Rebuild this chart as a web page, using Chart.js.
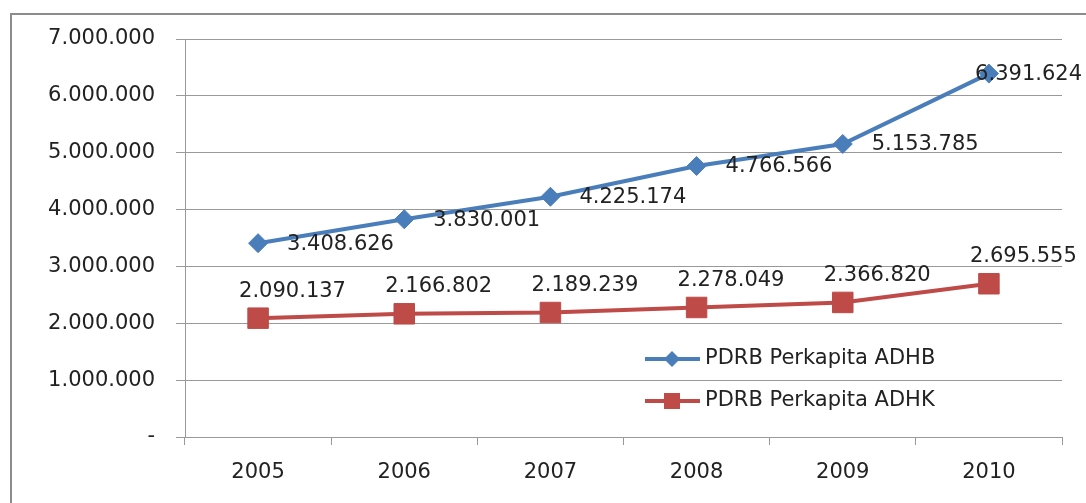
<!DOCTYPE html>
<html>
<head>
<meta charset="utf-8">
<title>PDRB Perkapita</title>
<script src="https://cdn.jsdelivr.net/npm/chart.js@4.4.1/dist/chart.umd.min.js"></script>
<style>
  body { margin: 0; background: #fff; }
  #chart { display: block; }
</style>
</head>
<body>
<canvas id="chart" width="1086" height="503"></canvas>
<script>
// Data
const years = ["2005", "2006", "2007", "2008", "2009", "2010"];
const adhb = [3408626, 3830001, 4225174, 4766566, 5153785, 6391624];
const adhk = [2090137, 2166802, 2189239, 2278049, 2366820, 2695555];
const seriesNames = ["PDRB Perkapita ADHB", "PDRB Perkapita ADHK"];
const yTicks = [0, 1000000, 2000000, 3000000, 4000000, 5000000, 6000000, 7000000];

const FONT = "'DejaVu Sans', sans-serif";
const TEXT = "#222";
const GRID = "#999";
const BLUE = "#4A7EBB";
const RED = "#BE4B48";

function formatNum(v) {
    if (v === 0) return "-";
    return String(v).replace(/\B(?=(\d{3})+(?!\d))/g, ".");
}

// marco exterior (solo borde superior e izquierdo visibles)
const framePlugin = {
    id: "frame",
    beforeDraw(chart) {
        const ctx = chart.ctx;
        ctx.save();
        ctx.fillStyle = "#fff";
        ctx.fillRect(0, 0, chart.width, chart.height);
        ctx.strokeStyle = "#8c8c8c";
        ctx.lineWidth = 2;
        ctx.beginPath();
        ctx.moveTo(11, chart.height);
        ctx.lineTo(11, 14);
        ctx.lineTo(chart.width, 14);
        ctx.stroke();
        ctx.restore();
    }
};

// etiquetas de datos
const labelPlugin = {
    id: "valueLabels",
    afterDatasetsDraw(chart) {
        const ctx = chart.ctx;
        ctx.save();
        ctx.font = "21px " + FONT;
        ctx.fillStyle = TEXT;
        ctx.textAlign = "left";
        ctx.textBaseline = "middle";
        chart.data.datasets.forEach((ds, i) => {
            const meta = chart.getDatasetMeta(i);
            meta.data.forEach((pt, j) => {
                const txt = formatNum(ds.data[j]);
                const w = ctx.measureText(txt).width;
                let x, y;
                if (i === 0) {
                    x = pt.x + 29;
                    y = pt.y + 1;
                } else {
                    x = pt.x - 19;
                    y = pt.y - 27;
                }
                if (x + w > chart.width - 4) x = chart.width - 4 - w;
                ctx.fillText(txt, x, y);
            });
        });
        ctx.restore();
    }
};

// leyenda dentro del área del gráfico
const legendPlugin = {
    id: "innerLegend",
    afterDraw(chart) {
        const ctx = chart.ctx;
        const area = chart.chartArea;
        const x0 = area.left + 460;
        const rows = [area.bottom - 78, area.bottom - 36];
        ctx.save();
        chart.data.datasets.forEach((ds, i) => {
            const y = rows[i];
            ctx.strokeStyle = ds.borderColor;
            ctx.lineWidth = 4;
            ctx.beginPath();
            ctx.moveTo(x0, y);
            ctx.lineTo(x0 + 55, y);
            ctx.stroke();
            ctx.fillStyle = ds.backgroundColor;
            ctx.beginPath();
            if (i === 0) {
                const r = 8;
                ctx.moveTo(x0 + 27, y - r);
                ctx.lineTo(x0 + 27 + r, y);
                ctx.lineTo(x0 + 27, y + r);
                ctx.lineTo(x0 + 27 - r, y);
                ctx.closePath();
            } else {
                ctx.rect(x0 + 27 - 8, y - 8, 16, 16);
            }
            ctx.fill();
            ctx.font = "21px " + FONT;
            ctx.fillStyle = TEXT;
            ctx.textAlign = "left";
            ctx.textBaseline = "middle";
            ctx.fillText(ds.label, x0 + 60, y);
        });
        ctx.restore();
    }
};

const ctx = document.getElementById("chart").getContext("2d");
new Chart(ctx, {
    type: "line",
    data: {
        labels: years,
        datasets: [{
            label: seriesNames[0],
            data: adhb,
            borderColor: BLUE,
            backgroundColor: BLUE,
            borderWidth: 4,
            pointStyle: "rectRot",
            pointRadius: 9.5,
            pointBorderWidth: 1,
            tension: 0
        }, {
            label: seriesNames[1],
            data: adhk,
            borderColor: RED,
            backgroundColor: RED,
            borderWidth: 4,
            pointStyle: "rect",
            pointRadius: 14.5,
            pointBorderWidth: 1,
            tension: 0
        }]
    },
    options: {
        responsive: false,
        animation: false,
        layout: { padding: { top: 39, right: 24, left: 0, bottom: 0 } },
        plugins: {
            legend: { display: false },
            tooltip: { enabled: false }
        },
        scales: {
            x: {
                offset: true,
                grid: {
                    offset: true,
                    drawOnChartArea: false,
                    drawTicks: true,
                    tickLength: 8,
                    color: GRID
                },
                border: { display: true, color: GRID },
                ticks: {
                    color: TEXT,
                    font: { family: FONT, size: 21 },
                    padding: 15,
                    maxRotation: 0
                },
                afterFit(scale) { scale.height = 66; }
            },
            y: {
                min: 0,
                max: 7000000,
                afterBuildTicks(scale) {
                    scale.ticks = yTicks.map(v => ({ value: v }));
                },
                grid: {
                    color: GRID,
                    tickLength: 9
                },
                border: { display: true, color: GRID },
                ticks: {
                    color: TEXT,
                    font: { family: FONT, size: 21 },
                    padding: 21,
                    callback: (v) => formatNum(v)
                },
                afterFit(scale) { scale.width = 185; }
            }
        }
    },
    plugins: [framePlugin, labelPlugin, legendPlugin]
});
</script>
</body>
</html>
